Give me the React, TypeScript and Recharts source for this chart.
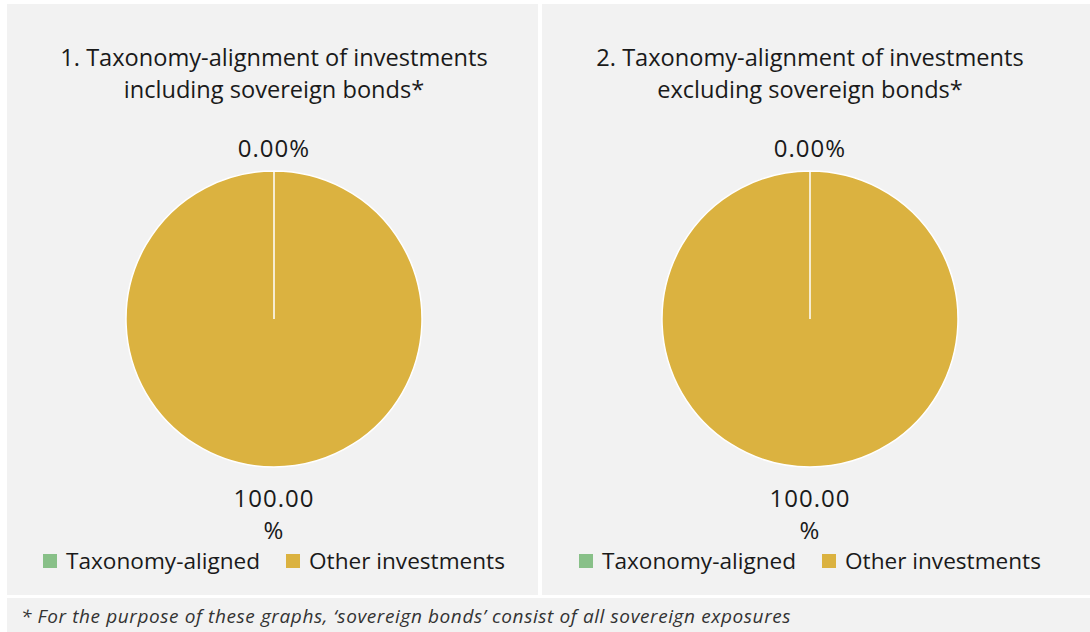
import React from "react";
import { PieChart, Pie, Cell, Legend } from "recharts";

const categories = ["Taxonomy-aligned", "Other investments"];
const includingValues = [0, 100];
const excludingValues = [0, 100];
const colors = ["#88C088", "#DBB240"];
const titles = [
  ["1. Taxonomy-alignment of investments", "including sovereign bonds*"],
  ["2. Taxonomy-alignment of investments", "excluding sovereign bonds*"],
];
const footnote =
  "* For the purpose of these graphs, \u2018sovereign bonds\u2019 consist of all sovereign exposures";

const FONT = "'Open Sans', 'Noto Sans', sans-serif";
const RAD = Math.PI / 180;

const renderLabel = (props: any) => {
  const { cx, cy, midAngle, outerRadius, value } = props;
  const text = Number(value).toFixed(2) + "%";
  const isTop = Math.sin(-midAngle * RAD) < 0;
  const off = isTop ? 24 : 30;
  const x = cx + (outerRadius + off) * Math.cos(-midAngle * RAD);
  const y = cy + (outerRadius + off) * Math.sin(-midAngle * RAD);
  const lines = text.length > 6 ? [text.slice(0, -1), "%"] : [text];
  return (
    <text
      x={x}
      y={y}
      textAnchor="middle"
      dominantBaseline="central"
      fill="#1a1a1a"
      fontSize={24}
      letterSpacing={1}
      fontFamily={FONT}
    >
      {lines.map((l, i) => (
        <tspan key={i} x={x} dy={i === 0 ? 0 : 32}>
          {l}
        </tspan>
      ))}
    </text>
  );
};

const renderLegend = (props: any) => {
  const { payload } = props;
  return (
    <div
      style={{
        display: "flex",
        justifyContent: "center",
        alignItems: "center",
        fontFamily: FONT,
        fontSize: 22.6,
        lineHeight: "32px",
        color: "#1a1a1a",
      }}
    >
      {(payload || []).map((p: any, i: number) => (
        <div
          key={i}
          style={{ display: "flex", alignItems: "center", marginRight: i === 0 ? 26 : 0 }}
        >
          <span
            style={{
              display: "inline-block",
              width: 14,
              height: 14,
              background: p.color,
              marginRight: 9,
            }}
          />
          <span>{p.value}</span>
        </div>
      ))}
    </div>
  );
};

const makeData = (vals: number[]) =>
  categories.map((c, i) => ({ name: c, value: vals[i] }));

const PiePanel = ({ left, title, vals }: { left: number; title: string[]; vals: number[] }) => (
  <div style={{ position: "absolute", left, top: 0, width: 536, height: 595 }}>
    <div
      style={{
        position: "absolute",
        left: 0,
        top: 41,
        width: 536,
        textAlign: "center",
        fontFamily: FONT,
        fontSize: 23.6,
        lineHeight: "32px",
        color: "#1a1a1a",
      }}
    >
      <div>{title[0]}</div>
      <div>{title[1]}</div>
    </div>
    <div style={{ position: "absolute", left: 0, top: 0 }}>
      <PieChart width={536} height={595} margin={{ top: 0, right: 0, bottom: 0, left: 0 }}>
        <Pie
          data={makeData(vals)}
          dataKey="value"
          nameKey="name"
          cx={268}
          cy={319}
          outerRadius={148}
          startAngle={90}
          endAngle={-270}
          stroke="#ffffff"
          strokeWidth={1.5}
          label={renderLabel}
          labelLine={false}
          isAnimationActive={false}
        >
          {vals.map((_, i) => (
            <Cell key={i} fill={colors[i]} />
          ))}
        </Pie>
        <Legend
          content={renderLegend}
          verticalAlign="bottom"
          itemSorter={null as any}
          wrapperStyle={{ top: 545, bottom: "auto", left: 0, width: 536 }}
        />
      </PieChart>
    </div>
  </div>
);

export default function App() {
  return (
    <div
      style={{
        position: "absolute",
        left: 0,
        top: 0,
        width: 1090,
        height: 632,
        background: "#ffffff",
        overflow: "hidden",
      }}
    >
      <div style={{ position: "absolute", left: 7, top: 4, width: 531, height: 591, background: "#F2F2F2" }} />
      <div style={{ position: "absolute", left: 542, top: 4, width: 548, height: 591, background: "#F2F2F2" }} />
      <div style={{ position: "absolute", left: 7, top: 598, width: 1083, height: 40, background: "#F2F2F2" }} />
      <PiePanel left={6} title={titles[0]} vals={includingValues} />
      <PiePanel left={542} title={titles[1]} vals={excludingValues} />
      <div
        style={{
          position: "absolute",
          left: 21,
          top: 603,
          fontFamily: FONT,
          fontStyle: "italic",
          fontSize: 19,
          letterSpacing: 0.6,
          lineHeight: "26px",
          color: "#333333",
          whiteSpace: "nowrap",
        }}
      >
        {footnote}
      </div>
    </div>
  );
}
